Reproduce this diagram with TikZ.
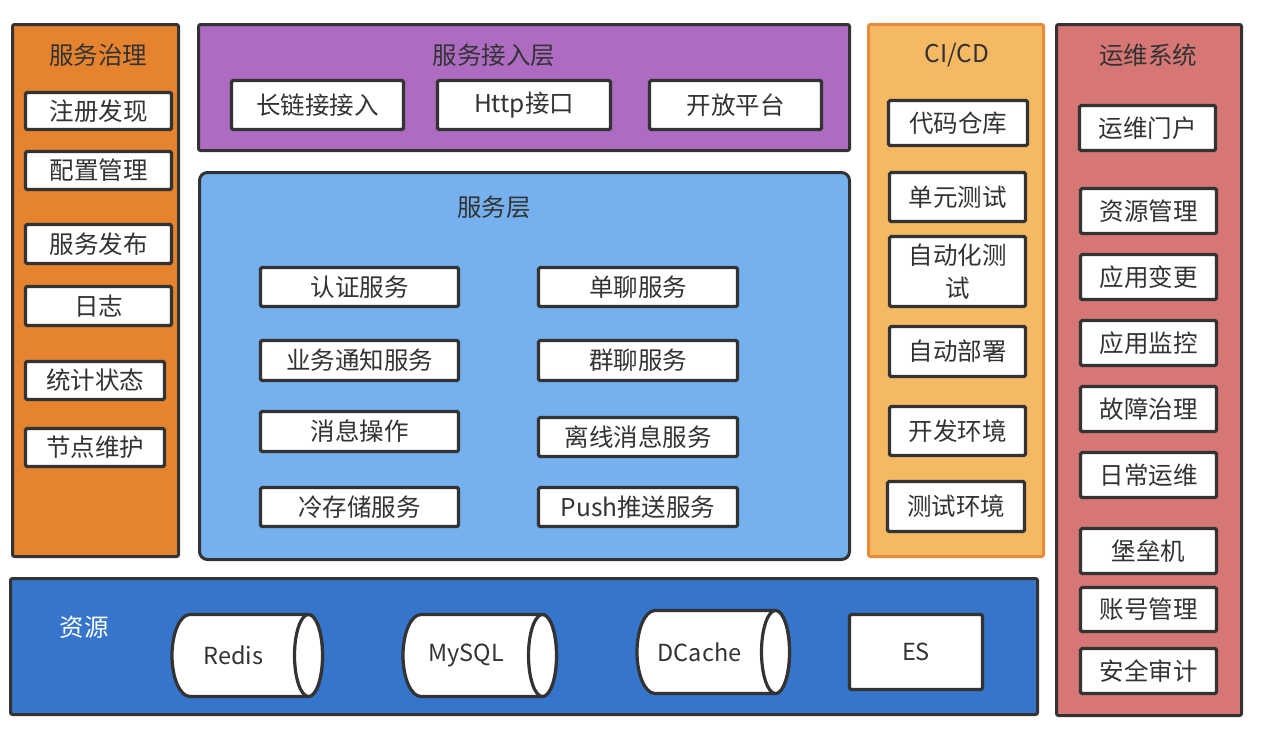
\documentclass[tikz,border=0pt]{standalone}
\usepackage{fontspec}
\setmainfont{Noto Sans CJK SC}
\definecolor{edge}{HTML}{333333}
\definecolor{txt}{HTML}{333333}
\definecolor{govfill}{HTML}{E5832F}
\definecolor{accfill}{HTML}{AD6BC2}
\definecolor{svcfill}{HTML}{74B1EE}
\definecolor{cifill}{HTML}{F5B964}
\definecolor{ciedge}{HTML}{E98A3A}
\definecolor{opsfill}{HTML}{D67675}
\definecolor{resfill}{HTML}{3675CC}
\newcommand\bx[7]{\node[#1, minimum width={#4-#2-3}, minimum height={#5-#3-3}] (#6) at ({(#2+#4)/2},{(#3+#5)/2}) {#7};}
\newcommand\cyl[6]{%
  \draw[cylst] ({#1+18},{#2+1.5}) -- ({#3-15.5},{#2+1.5})
    arc[start angle=-90,end angle=90,x radius=14,y radius={(#4-#2-3)/2}]
    -- ({#1+18},{#4-1.5})
    arc[start angle=90,end angle=270,x radius=18,y radius={(#4-#2-3)/2}] -- cycle;
  \draw[cylst] ({#3-15.5},{(#2+#4)/2}) ellipse[x radius=14,y radius={(#4-#2-3)/2}];
  \node[cyltext] (#5) at ({(#1+#3-29)/2},{(#2+#4)/2}) {#6};}
\begin{document}
\begin{tikzpicture}[x=1pt,y=-1pt,
  panel/.style={draw=edge, line width=3pt, rounded corners=2pt, inner sep=0pt},
  item/.style={draw=edge, fill=white, line width=3.2pt, rounded corners=1.5pt, inner sep=0pt,
    text=txt, font=\fontsize{24.5}{33}\selectfont, align=center},
  title/.style={text=txt, font=\fontsize{24.5}{26}\selectfont, inner sep=0pt},
  cylst/.style={draw=edge, fill=white, line width=3.2pt},
  cyltext/.style={text=txt, font=\fontsize{23.5}{26}\selectfont, inner sep=0pt}]
\useasboundingbox (0,0) rectangle (1264,740);
\fill[white] (0,0) rectangle (1264,740);

% panels
\bx{panel, fill=govfill}{11}{23}{180}{558}{gov}{}
\bx{panel, fill=accfill}{197}{23}{851}{152}{acc}{}
\bx{panel, fill=svcfill, rounded corners=8pt}{198}{171}{851}{561}{svc}{}
\bx{panel, fill=cifill, draw=ciedge}{867}{23}{1045}{558}{ci}{}
\bx{panel, fill=opsfill}{1055}{23}{1243}{717}{ops}{}
\bx{panel, fill=resfill}{9}{577}{1039}{716}{res}{}

% titles
\node[title] (govt) at (98,55) {服务治理};
\node[title] (acct) at (494,55) {服务接入层};
\node[title] (svct) at (494,207) {服务层};
\node[title] (cit) at (957,55) {CI/CD};
\node[title] (opst) at (1148,55) {运维系统};
\node[title, text=white] (rest) at (84,627) {资源};

% service governance
\bx{item}{24}{91}{173}{131}{g1}{注册发现}
\bx{item}{24}{150}{173}{191}{g2}{配置管理}
\bx{item}{24}{223}{173}{265}{g3}{服务发布}
\bx{item}{24}{285}{173}{327}{g4}{日志}
\bx{item}{24}{360}{166}{401}{g5}{统计状态}
\bx{item}{24}{427}{166}{468}{g6}{节点维护}

% access layer
\bx{item}{230}{79}{405}{131}{a1}{长链接接入}
\bx{item}{436}{79}{612}{131}{a2}{Http接口}
\bx{item}{648}{79}{823}{131}{a3}{开放平台}

% service layer
\bx{item}{259}{266}{460}{308}{s1}{认证服务}
\bx{item}{259}{339}{460}{382}{s2}{业务通知服务}
\bx{item}{259}{410}{460}{453}{s3}{消息操作}
\bx{item}{259}{486}{460}{528}{s4}{冷存储服务}
\bx{item}{537}{266}{739}{308}{s5}{单聊服务}
\bx{item}{537}{339}{739}{382}{s6}{群聊服务}
\bx{item}{537}{416}{739}{458}{s7}{离线消息服务}
\bx{item}{537}{486}{739}{528}{s8}{Push推送服务}

% CI/CD
\bx{item}{887}{99}{1029}{147}{c1}{代码仓库}
\bx{item}{888}{171}{1027}{223}{c2}{单元测试}
\bx{item}{888}{235}{1027}{308}{c3}{自动化测\\试}
\bx{item}{888}{325}{1027}{378}{c4}{自动部署}
\bx{item}{888}{405}{1027}{457}{c5}{开发环境}
\bx{item}{886}{480}{1026}{533}{c6}{测试环境}

% ops
\bx{item}{1078}{104}{1217}{152}{o1}{运维门户}
\bx{item}{1079}{187}{1218}{235}{o2}{资源管理}
\bx{item}{1079}{253}{1218}{301}{o3}{应用变更}
\bx{item}{1079}{319}{1218}{367}{o4}{应用监控}
\bx{item}{1079}{385}{1218}{433}{o5}{故障治理}
\bx{item}{1079}{451}{1218}{499}{o6}{日常运维}
\bx{item}{1079}{527}{1218}{575}{o7}{堡垒机}
\bx{item}{1079}{586}{1218}{633}{o8}{账号管理}
\bx{item}{1079}{647}{1218}{695}{o9}{安全审计}

% resources
\cyl{172}{613}{324}{698}{redis}{Redis}
\cyl{403}{613}{558}{698}{mysql}{MySQL}
\cyl{637}{609}{791}{695}{dcache}{DCache}
\bx{item, font=\fontsize{23.5}{26}\selectfont}{848}{613}{984}{691}{es}{ES}
\end{tikzpicture}
\end{document}
